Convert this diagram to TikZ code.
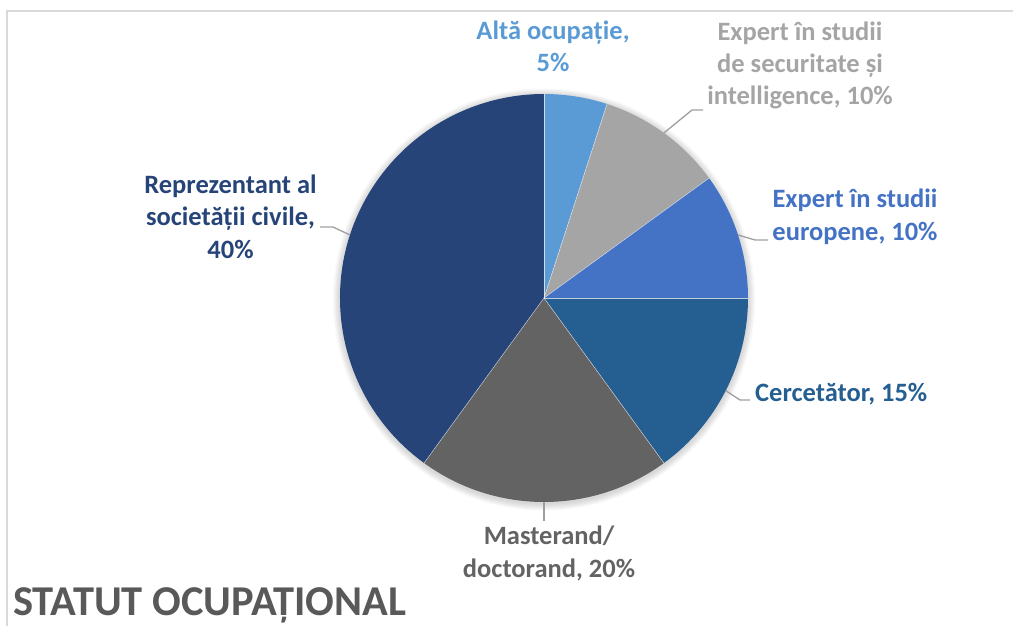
\documentclass[tikz,border=0pt]{standalone}
\usepackage{fontspec}
\setmainfont{Carlito}
\usetikzlibrary{calc}
\begin{document}
\begin{tikzpicture}[x=1pt,y=1pt,
  lbl/.style={font=\bfseries\fontsize{26.5}{32.3}\selectfont, align=center, inner sep=0pt, anchor=base},
  leader/.style={draw=gray!75, line width=1.3pt},
  slice/.style={draw=white, draw opacity=0.7, line width=0.45pt},
  glow/.style={fill=black, fill opacity=0.025}]
\definecolor{cA}{HTML}{5B9BD5}
\definecolor{cB}{HTML}{A5A5A5}
\definecolor{cC}{HTML}{4472C4}
\definecolor{cD}{HTML}{255E91}
\definecolor{cE}{HTML}{636363}
\definecolor{cF}{HTML}{264478}
\definecolor{frame}{HTML}{D9D9D9}
\definecolor{ttl}{HTML}{595959}
\useasboundingbox (0,0) rectangle (1013,-626);
\begin{scope}
\clip (0,0) rectangle (1013,-626);
\draw[frame, line width=2pt] (7,-11) rectangle (1030,-640);
\end{scope}
\coordinate (c) at (544,-298);
\def\R{204pt}
% soft shadow
\foreach \k in {1,...,7} \fill[glow] ($(c)+(0,-1.5)$) circle[radius=204+\k];
\fill[cA] (c) -- ++(90:\R) arc[start angle=90, end angle=72, radius=\R] -- cycle;
\fill[cB] (c) -- ++(72:\R) arc[start angle=72, end angle=36, radius=\R] -- cycle;
\fill[cC] (c) -- ++(36:\R) arc[start angle=36, end angle=0, radius=\R] -- cycle;
\fill[cD] (c) -- ++(0:\R) arc[start angle=0, end angle=-54, radius=\R] -- cycle;
\fill[cE] (c) -- ++(-54:\R) arc[start angle=-54, end angle=-126, radius=\R] -- cycle;
\fill[cF] (c) -- ++(-126:\R) arc[start angle=-126, end angle=-270, radius=\R] -- cycle;
\foreach \a in {90,72,36,0,-54,-126} \draw[slice] (c) -- ++(\a:\R);
% labels (anchored at the baseline of the last line)
\node[lbl, text=cA] (lA) at (553,-72) {Altă ocupație,\\5\%};
\node[lbl, text=cB] (lB) at (800,-105) {Expert în studii\\de securitate și\\intelligence, 10\%};
\node[lbl, text=cC] (lC) at (855,-240) {Expert în studii\\europene, 10\%};
\node[lbl, text=cD, anchor=base west] (lD) at (755,-401) {Cercetător, 15\%};
\node[lbl, text=cE] (lE) at (549,-577) {Masterand/\\doctorand, 20\%};
\node[lbl, text=cF] (lF) at (230.5,-258) {Reprezentant al\\societății civile,\\40\%};
\node[font=\bfseries\fontsize{42.5}{46}\selectfont, text=ttl, anchor=base west, inner sep=0pt] (title) at (13,-615) {STATUT OCUPAȚIONAL};
% leaders
\coordinate (pB) at ($(c)+(54:\R)$);
\coordinate (pC) at ($(c)+(18:\R)$);
\coordinate (pD) at ($(c)+(-27:\R)$);
\coordinate (pE) at ($(c)+(-90:\R)$);
\coordinate (pF) at ($(c)+(-198:\R)$);
\coordinate (bB) at (692,-110); \coordinate (eB) at (703,-110);
\coordinate (bC) at (755,-240); \coordinate (eC) at (768,-240);
\coordinate (bD) at (740,-400); \coordinate (eD) at (750,-400);
\coordinate (eE) at (544,-521);
\coordinate (bF) at (333,-227); \coordinate (eF) at (320,-227);
\draw[leader] (pB) -- (bB) -- (eB);
\draw[leader] (pC) -- (bC) -- (eC);
\draw[leader] (pD) -- (bD) -- (eD);
\draw[leader] (pE) -- (eE);
\draw[leader] (pF) -- (bF) -- (eF);
\end{tikzpicture}
\end{document}
